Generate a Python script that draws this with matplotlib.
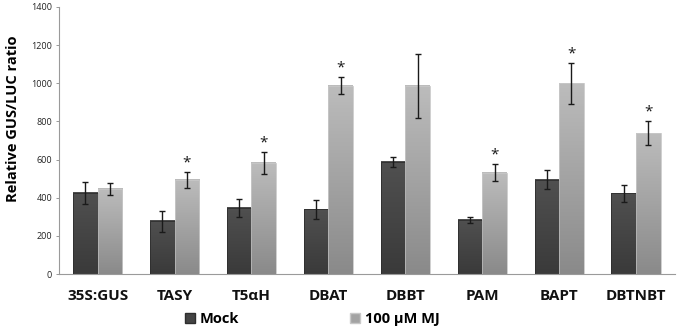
import numpy as np
import matplotlib.pyplot as plt
from matplotlib.colors import LinearSegmentedColormap
from matplotlib.patches import Patch

categories = ['35S:GUS', 'TASY', 'T5αH', 'DBAT', 'DBBT', 'PAM', 'BAPT', 'DBTNBT']
mock = [425, 278, 348, 340, 588, 285, 495, 423]
mock_err = [60, 55, 47, 50, 28, 15, 50, 45]
mj = [447, 495, 584, 987, 987, 532, 1000, 738]
mj_err = [32, 42, 58, 45, 167, 45, 107, 62]
signif = [False, True, True, True, False, True, True, True]

plt.rcParams['font.family'] = ['Open Sans', 'DejaVu Sans']

fig = plt.figure(figsize=(6.8, 3.31), dpi=100)
ax = fig.add_axes([0.087, 0.172, 0.905, 0.807])

mock_cmap = LinearSegmentedColormap.from_list('mock', ['#3a3a3a', '#505050'])
mj_cmap = LinearSegmentedColormap.from_list('mj', ['#8a8a8a', '#bcbcbc'])
grad = np.linspace(0, 1, 100).reshape(-1, 1)

x = np.arange(len(categories))
w = 0.32

def gradient_bars(xs, heights, cmap, edge):
    bars = ax.bar(xs, heights, w, color='none', edgecolor=edge, linewidth=0.6, zorder=3)
    for b in bars:
        x0, y0 = b.get_x(), b.get_y()
        ax.imshow(grad, cmap=cmap, origin='lower', aspect='auto',
                  extent=[x0, x0 + b.get_width(), y0, y0 + b.get_height()], zorder=2)
    return bars

gradient_bars(x - w / 2, mock, mock_cmap, '#2e2e2e')
gradient_bars(x + w / 2, mj, mj_cmap, '#c8c8c8')

ekw = dict(fmt='none', ecolor='#1a1a1a', elinewidth=1.0, capsize=2.5, capthick=1.0, zorder=4)
ax.errorbar(x - w / 2, mock, yerr=mock_err, **ekw)
ax.errorbar(x + w / 2, mj, yerr=mj_err, **ekw)

for xi, v, e, s in zip(x, mj, mj_err, signif):
    if s:
        ax.text(xi + w / 2, v + e + 8, '*', ha='center', va='bottom', fontsize=11,
                color='#1a1a1a', zorder=5)

ax.set_xlim(-0.5, len(categories) - 0.5)
ax.set_ylim(0, 1400)
ax.set_yticks(np.arange(0, 1401, 200))
ax.set_xticks(x)
ax.set_xticklabels(categories, fontsize=11, fontweight='bold', color='#111111')
ax.tick_params(axis='x', length=0, pad=11)
ax.tick_params(axis='y', length=2, width=0.6, color='#888888', labelsize=6.5,
               labelcolor='#222222', pad=3)
for sp in ['top', 'right']:
    ax.spines[sp].set_visible(False)
for sp in ['left', 'bottom']:
    ax.spines[sp].set_color('#9a9a9a')
    ax.spines[sp].set_linewidth(0.8)
ax.set_ylabel('Relative GUS/LUC ratio', fontsize=10.5, fontweight='bold')
ax.yaxis.set_label_coords(-0.064, 0.58)

handles = [Patch(facecolor='#444444', edgecolor='#2e2e2e', label='Mock'),
           Patch(facecolor='#a3a3a3', edgecolor='#c8c8c8', label='100 µM MJ')]
fig.legend(handles=handles, loc='lower left', bbox_to_anchor=(0.253, -0.024), ncol=2,
           frameon=False, prop={'size': 10.5, 'weight': 'bold'}, handlelength=0.7,
           handleheight=0.7, handletextpad=0.3, columnspacing=7.6)

fig.savefig('out.png', dpi=100)
